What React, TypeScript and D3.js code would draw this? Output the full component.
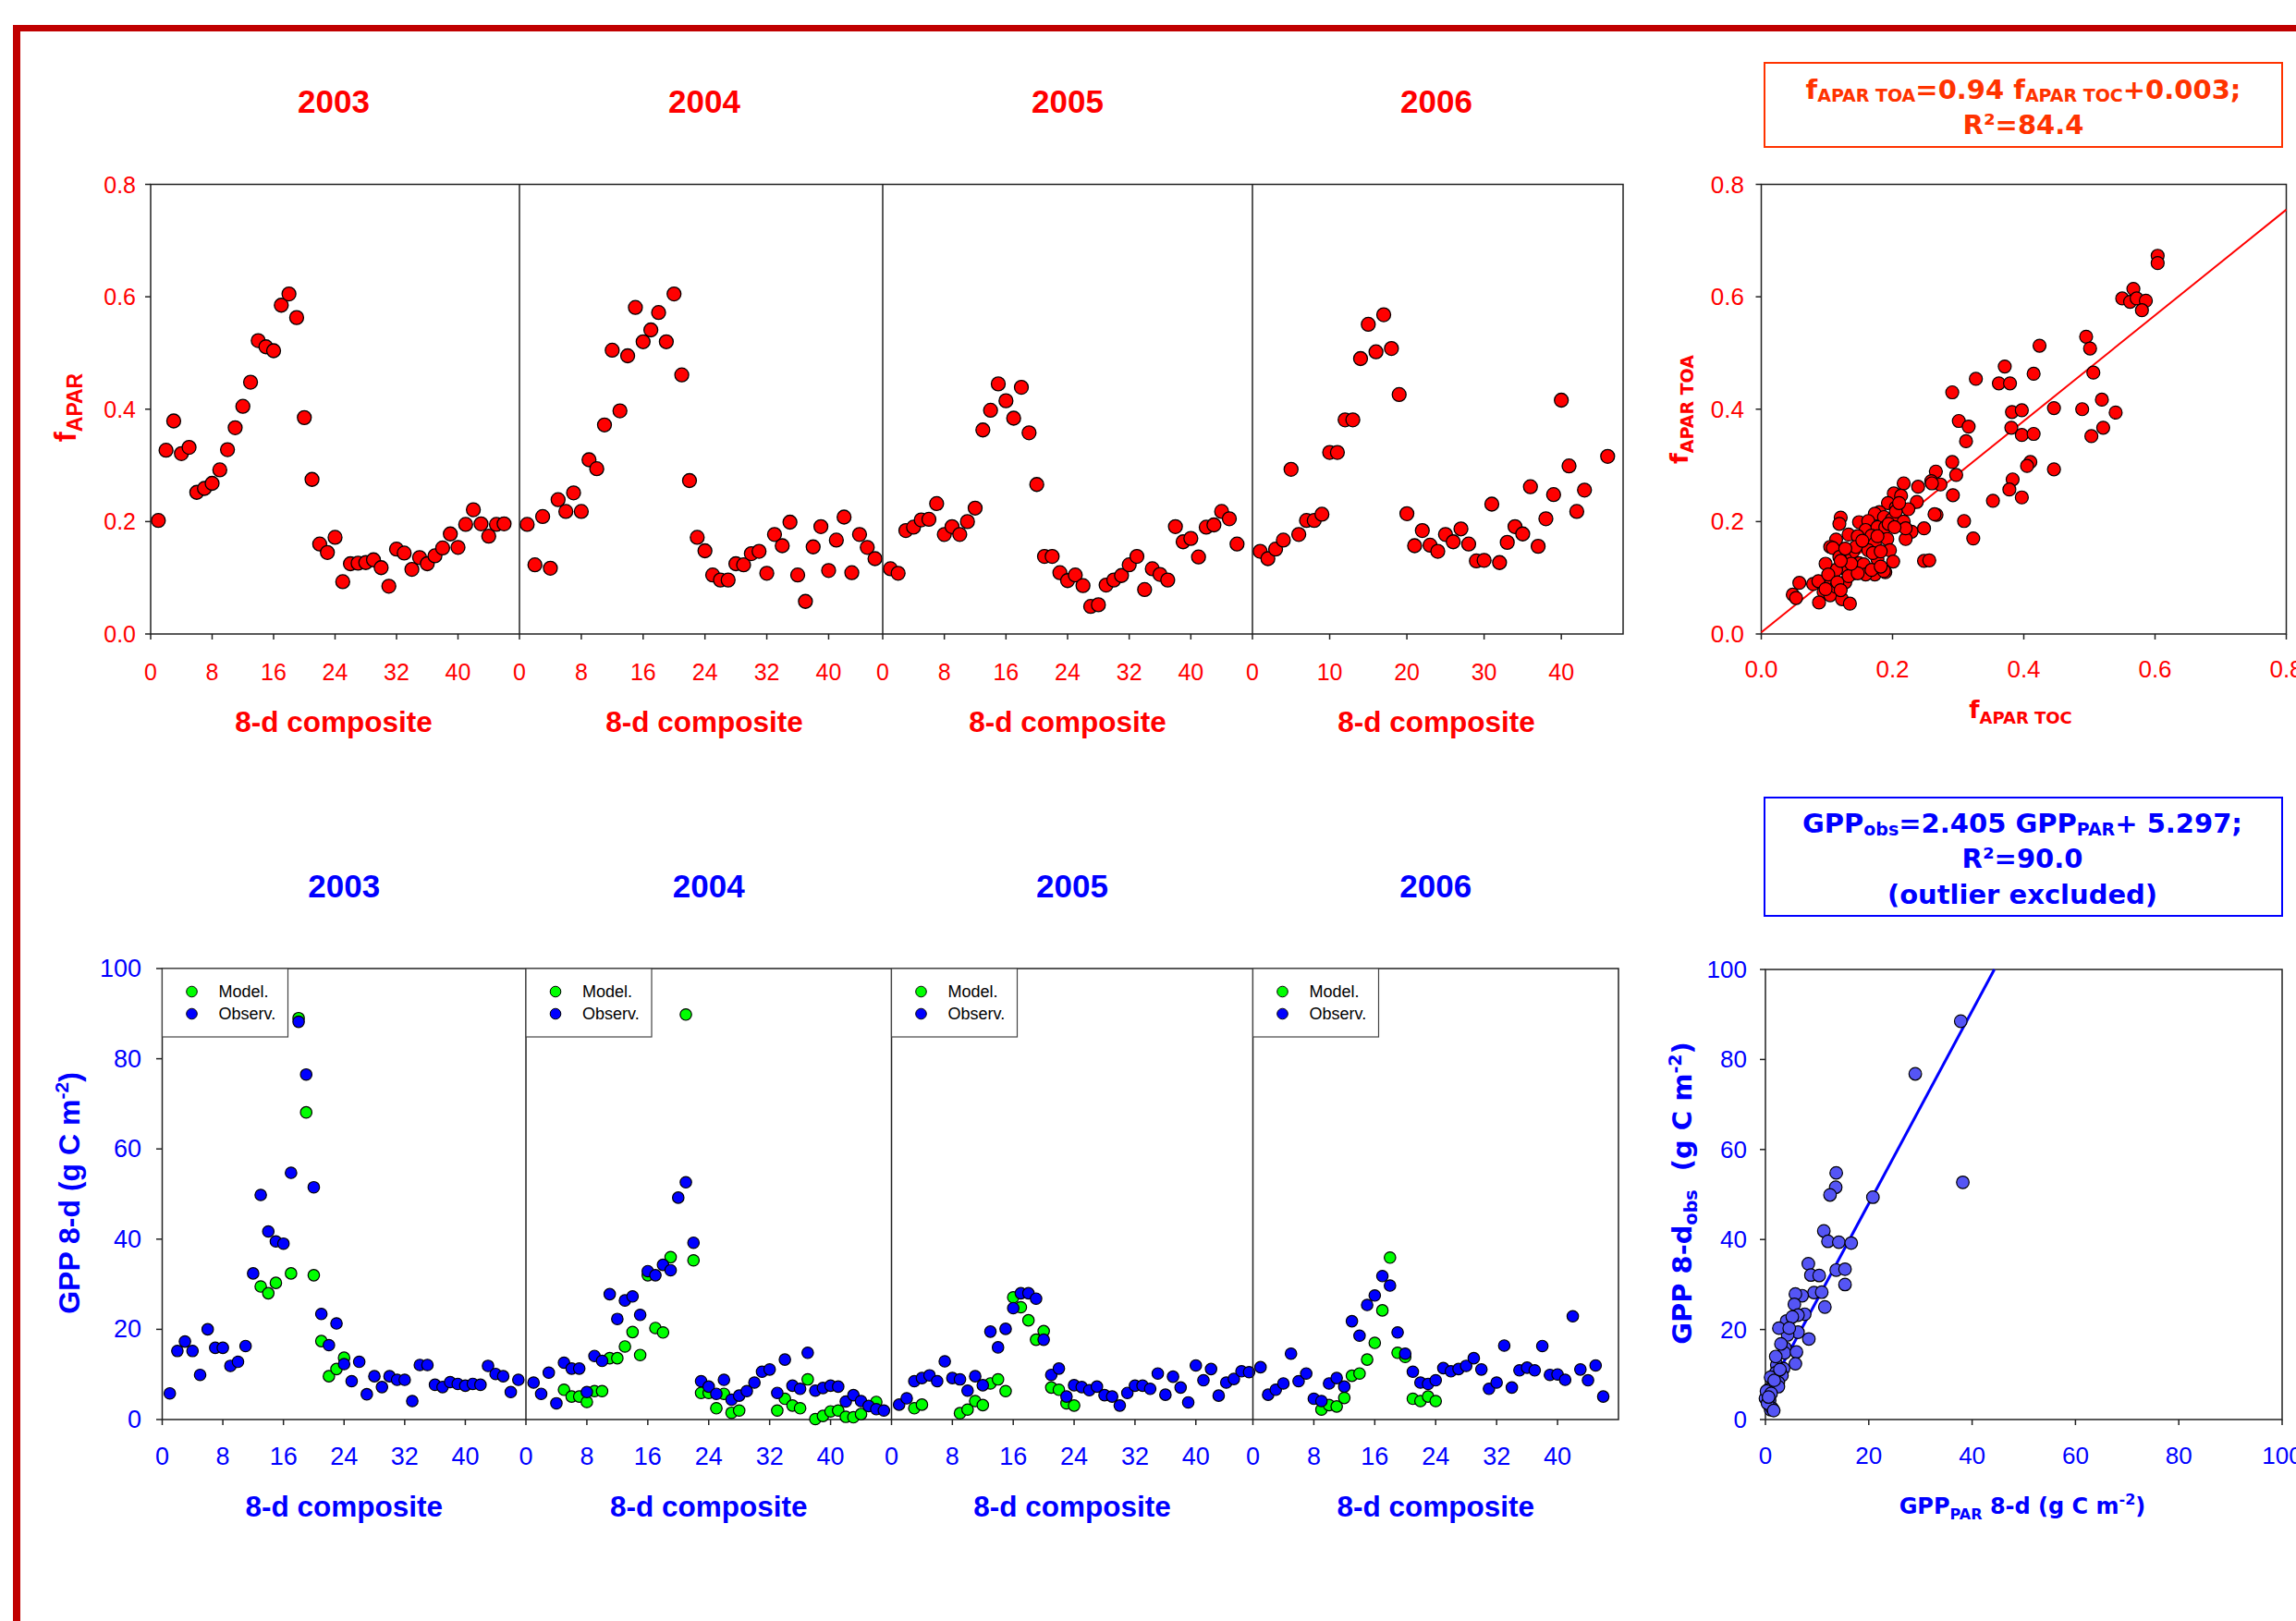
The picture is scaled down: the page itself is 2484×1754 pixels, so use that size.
import React from "react";
import * as d3 from "d3";

const W = 2484;
const H = 1754;
const ARIAL = "'Liberation Sans', Arial, sans-serif";
const VERD = "'DejaVu Sans', Verdana, sans-serif";

// ---------------- DATA ----------------
const years = ["2003", "2004", "2005", "2006"];

// fAPAR time series (composite index -> value)
const faparComp2003 = d3.range(1, 47);
const faparVal2003 = [0.202, 0.327, 0.379, 0.321, 0.332, 0.252, 0.259, 0.268, 0.292, 0.328, 0.367, 0.405, 0.448, 0.522, 0.511, 0.504, 0.585, 0.605, 0.563, 0.385, 0.275, 0.16, 0.145, 0.172, 0.093, 0.125, 0.126, 0.127, 0.132, 0.118, 0.085, 0.151, 0.144, 0.115, 0.136, 0.125, 0.139, 0.153, 0.178, 0.154, 0.195, 0.221, 0.196, 0.174, 0.195, 0.196];
const faparComp2004 = d3.range(1, 47);
const faparVal2004 = [0.195, 0.123, 0.209, 0.117, 0.239, 0.218, 0.251, 0.218, 0.31, 0.294, 0.372, 0.505, 0.397, 0.495, 0.581, 0.52, 0.541, 0.572, 0.52, 0.605, 0.461, 0.273, 0.172, 0.148, 0.105, 0.096, 0.096, 0.125, 0.123, 0.143, 0.147, 0.108, 0.177, 0.157, 0.199, 0.105, 0.058, 0.155, 0.191, 0.113, 0.167, 0.208, 0.109, 0.177, 0.154, 0.134];
const faparComp2005 = d3.range(1, 47);
const faparVal2005 = [0.116, 0.108, 0.184, 0.19, 0.203, 0.204, 0.232, 0.177, 0.191, 0.177, 0.2, 0.224, 0.363, 0.398, 0.445, 0.415, 0.384, 0.439, 0.358, 0.266, 0.138, 0.138, 0.109, 0.095, 0.105, 0.086, 0.049, 0.052, 0.087, 0.096, 0.104, 0.123, 0.138, 0.079, 0.116, 0.106, 0.096, 0.191, 0.164, 0.17, 0.137, 0.19, 0.194, 0.218, 0.205, 0.16];
const faparComp2006 = [...d3.range(1, 44), 46];
const faparVal2006 = [0.147, 0.134, 0.151, 0.167, 0.293, 0.177, 0.202, 0.202, 0.213, 0.323, 0.323, 0.381, 0.381, 0.49, 0.551, 0.502, 0.568, 0.508, 0.426, 0.214, 0.157, 0.184, 0.158, 0.147, 0.177, 0.164, 0.187, 0.16, 0.13, 0.131, 0.231, 0.127, 0.163, 0.191, 0.178, 0.262, 0.156, 0.205, 0.248, 0.416, 0.299, 0.218, 0.256, 0.316];

// GPP time series: observed (blue) and modelled (green, null = not plotted)
const gppObs2003 = [5.8, 15.2, 17.3, 15.2, 9.9, 20.0, 15.9, 15.9, 11.9, 12.8, 16.3, 32.4, 49.8, 41.7, 39.5, 39.0, 54.7, 88.2, 76.5, 51.5, 23.4, 16.5, 21.3, 12.3, 8.5, 12.8, 5.6, 9.6, 7.2, 9.6, 8.8, 8.8, 4.1, 12.1, 12.1, 7.7, 7.2, 8.3, 7.9, 7.5, 7.9, 7.7, 11.9, 10.1, 9.6, 6.1, 8.8];
const gppMod2003 = [null, null, null, null, null, null, null, null, null, null, null, null, 29.5, 28.0, 30.3, null, 32.4, 89.0, 68.1, 32.0, 17.4, 9.6, 11.2, 13.7];
const gppObs2004 = [8.2, 5.7, 10.4, 3.6, 12.6, 11.3, 11.3, 6.1, 14.1, 13.0, 27.8, 22.3, 26.4, 27.3, 23.2, 32.9, 32.0, 34.3, 33.1, 49.2, 52.6, 39.2, 8.5, 7.3, 5.7, 8.8, 4.4, 5.3, 6.3, 8.2, 10.6, 11.1, 5.9, 13.3, 7.5, 6.8, 14.8, 6.4, 7.0, 7.5, 7.3, 4.0, 5.4, 4.1, 3.0, 2.3, 2.0];
const gppMod2004 = [null, null, null, null, 6.6, 5.1, 5.1, 3.9, 6.3, 6.3, 13.6, 13.6, 16.2, 19.4, 14.3, 32.0, 20.3, 19.3, 36.0, null, 89.8, 35.3, 5.9, 5.9, 2.5, 5.7, 1.5, 2.0, null, null, null, null, 2.0, 4.6, 3.1, 2.5, 8.9, 0.1, 0.8, 1.8, 2.0, 0.6, 0.5, 1.2, null, 3.9];
const gppObs2005 = [3.3, 4.7, 8.5, 9.2, 9.8, 8.5, 12.9, 9.2, 8.9, 6.4, 9.6, 7.6, 19.5, 16.0, 20.1, 24.7, 28.0, 28.0, 26.8, 17.7, 9.9, 11.3, 5.1, 7.6, 7.2, 6.5, 7.3, 5.4, 5.1, 3.1, 5.9, 7.5, 7.5, 6.8, 10.2, 5.5, 9.5, 7.1, 3.8, 12.0, 8.7, 11.2, 5.3, 8.2, 9.0, 10.7, 10.5];
const gppMod2005 = [null, null, 2.5, 3.3, null, null, null, null, 1.4, 2.2, 4.1, 3.2, 8.0, 8.9, 6.3, 27.1, 24.9, 22.0, 17.7, 19.6, 7.1, 6.6, 3.6, 3.1];
const gppObs2006 = [11.6, 5.5, 6.6, 8.0, 14.6, 8.5, 10.2, 4.6, 4.1, 8.0, 9.2, 7.3, 21.8, 18.6, 25.4, 27.5, 31.8, 29.7, 19.3, 14.6, 10.6, 8.2, 7.9, 8.7, 11.4, 10.7, 11.2, 11.9, 13.6, 11.1, 6.8, 8.2, 16.4, 7.1, 10.9, 11.5, 10.9, 16.3, 9.9, 10.0, 8.8, 22.9, 11.1, 8.7, 12.0, 5.1];
const gppMod2006 = [null, null, null, null, null, null, null, null, 2.2, 3.2, 2.9, 4.8, 9.7, 10.2, 13.3, 17.0, 24.2, 35.9, 14.8, 13.9, 4.6, 4.1, 5.1, 4.1];

// fAPAR TOC (x) vs fAPAR TOA (y)
const tocValues = [0.604, 0.604, 0.55, 0.562, 0.567, 0.572, 0.586, 0.58, 0.495, 0.501, 0.506, 0.489, 0.503, 0.519, 0.521, 0.54, 0.424, 0.415, 0.446, 0.446, 0.371, 0.362, 0.379, 0.382, 0.397, 0.381, 0.397, 0.415, 0.41, 0.405, 0.383, 0.378, 0.397, 0.353, 0.327, 0.291, 0.301, 0.316, 0.312, 0.291, 0.297, 0.292, 0.309, 0.323, 0.266, 0.259, 0.273, 0.267,
  0.217, 0.239, 0.26, 0.202, 0.213, 0.237, 0.193, 0.205, 0.224, 0.18, 0.173, 0.187, 0.199, 0.217, 0.229, 0.248, 0.22, 0.248, 0.256, 0.264, 0.121, 0.119, 0.149, 0.163, 0.159, 0.177, 0.189, 0.133, 0.114, 0.147, 0.168, 0.192, 0.173, 0.105, 0.109, 0.14, 0.163, 0.128, 0.149, 0.156, 0.177, 0.17, 0.196, 0.201, 0.189, 0.173, 0.159, 0.14, 0.126, 0.114, 0.098, 0.119, 0.058, 0.079, 0.087, 0.048, 0.053, 0.095, 0.105, 0.128, 0.123, 0.135, 0.088, 0.105, 0.114, 0.102, 0.133, 0.147, 0.187, 0.137, 0.182, 0.144, 0.154, 0.177, 0.205, 0.194, 0.21, 0.22, 0.203, 0.128, 0.121, 0.168, 0.182, 0.116, 0.121, 0.098];
const toaValues = [0.673, 0.66, 0.597, 0.591, 0.614, 0.597, 0.593, 0.576, 0.529, 0.508, 0.465, 0.4, 0.352, 0.417, 0.367, 0.394, 0.513, 0.463, 0.402, 0.293, 0.476, 0.446, 0.446, 0.395, 0.398, 0.367, 0.354, 0.356, 0.306, 0.299, 0.275, 0.257, 0.243, 0.237, 0.454, 0.43, 0.379, 0.369, 0.343, 0.306, 0.283, 0.247, 0.201, 0.17, 0.289, 0.272, 0.266, 0.212,
  0.268, 0.262, 0.268, 0.25, 0.246, 0.235, 0.233, 0.225, 0.222, 0.217, 0.214, 0.208, 0.204, 0.2, 0.182, 0.188, 0.169, 0.13, 0.131, 0.213, 0.207, 0.196, 0.199, 0.201, 0.185, 0.19, 0.19, 0.177, 0.168, 0.174, 0.175, 0.169, 0.161, 0.155, 0.153, 0.147, 0.149, 0.133, 0.126, 0.124, 0.133, 0.144, 0.149, 0.129, 0.11, 0.106, 0.106, 0.108, 0.117, 0.114, 0.125, 0.137, 0.091, 0.089, 0.094, 0.07, 0.064, 0.075, 0.069, 0.092, 0.062, 0.054, 0.056, 0.087, 0.084, 0.106, 0.103, 0.108, 0.112, 0.125, 0.147, 0.155, 0.166, 0.174, 0.218, 0.196, 0.233, 0.188, 0.19, 0.152, 0.13, 0.114, 0.12, 0.092, 0.078, 0.08];
const faparFitSlope = 0.94;
const faparFitIntercept = 0.003;

// GPP_PAR (x) vs GPP_obs (y)
const gppParValues = [37.8, 29.0, 38.2, 20.8, 13.7, 13.6, 12.5, 11.3, 12.1, 14.2, 16.6, 13.7, 15.4, 15.4, 8.3, 8.8, 10.4, 9.4, 10.9, 11.5, 7.1, 5.8, 5.6, 7.6, 6.3, 6.3, 8.4, 4.1, 4.3, 2.6, 3.8, 3.7, 6.0, 5.8, 2.2, 2.0, 3.5, 3.2, 2.0, 2.5, 1.0, 1.6, 0.5, 2.5, 0.0, 0.8, 1.0, 1.3, 0.4, 1.7, 2.8, 0.2, 1.1, 0.6, 1.6, 5.2, 3.0, 4.6];
const gppObsValues = [88.5, 76.8, 52.7, 49.4, 54.8, 51.6, 49.9, 41.9, 39.6, 39.4, 39.2, 33.2, 33.4, 30.0, 34.6, 32.1, 32.0, 28.2, 28.3, 25.0, 27.5, 27.9, 25.6, 23.4, 23.2, 19.4, 17.9, 21.9, 18.8, 20.3, 15.9, 14.8, 15.0, 12.4, 12.1, 14.0, 11.3, 9.8, 10.4, 8.2, 9.4, 7.7, 6.6, 7.3, 4.7, 4.2, 2.2, 2.5, 3.6, 8.7, 11.1, 6.3, 5.8, 5.0, 2.0, 22.8, 16.8, 20.3];
const gppFitSlope = 2.14;
const gppFitIntercept = 5.2;

const faparComps = [faparComp2003, faparComp2004, faparComp2005, faparComp2006];
const faparVals = [faparVal2003, faparVal2004, faparVal2005, faparVal2006];
const gppObs = [gppObs2003, gppObs2004, gppObs2005, gppObs2006];
const gppMod = [gppMod2003, gppMod2004, gppMod2005, gppMod2006];

const topTicks = [[0, 8, 16, 24, 32, 40], [0, 8, 16, 24, 32, 40], [0, 8, 16, 24, 32, 40], [0, 10, 20, 30, 40]];
const botTicks = [0, 8, 16, 24, 32, 40];
const faparTicks = [0, 0.2, 0.4, 0.6, 0.8];
const gppTicks = [0, 20, 40, 60, 80, 100];

// ---------------- LAYOUT ----------------
const topEdges = [163, 562, 955, 1355, 1756];
const topMax = [48, 47, 48, 48];
const topTitleX = [361, 762, 1155, 1554];
const botEdges = [175.5, 569, 964.5, 1355.5, 1751];
const botMax = [48, 48, 47.5, 48];

const RED = "#FF0000";
const BLUE = "#0000FF";
const GREEN = "#00FF00";
const AX = "#222";

const yTop = d3.scaleLinear().domain([0, 0.8]).range([686, 199.5]);
const yBot = d3.scaleLinear().domain([0, 100]).range([1536, 1048]);

const sxTop = d3.scaleLinear().domain([0, 0.8]).range([1905.5, 2473.5]);
const syTop = d3.scaleLinear().domain([0, 0.8]).range([686, 199.5]);
const sxBot = d3.scaleLinear().domain([0, 100]).range([1910, 2469]);
const syBot = d3.scaleLinear().domain([0, 100]).range([1536, 1049]);

const fmt1 = d3.format(".1f");

function TopRow() {
  const els: any[] = [];
  years.forEach((yr, i) => {
    const x = d3.scaleLinear().domain([0, topMax[i]]).range([topEdges[i], topEdges[i + 1]]);
    const cx = topTitleX[i];
    els.push(
      <text key={"t" + i} x={cx} y={109} textAnchor="middle" dominantBaseline="central" fontFamily={ARIAL} fontWeight="bold" fontSize={35} fill={RED}>{yr}</text>
    );
    els.push(
      <text key={"c" + i} x={cx} y={781} textAnchor="middle" dominantBaseline="central" fontFamily={ARIAL} fontWeight="bold" fontSize={31.5} fill={RED}>8-d composite</text>
    );
    topTicks[i].forEach((t) => {
      els.push(<line key={`xt${i}-${t}`} x1={x(t)} x2={x(t)} y1={686} y2={692} stroke={AX} strokeWidth={1.5} />);
      els.push(
        <text key={`xl${i}-${t}`} x={x(t)} y={727} textAnchor="middle" dominantBaseline="central" fontFamily={ARIAL} fontSize={25} fill={RED}>{t}</text>
      );
    });
    if (i > 0) {
      els.push(<line key={"d" + i} x1={topEdges[i]} x2={topEdges[i]} y1={199.5} y2={686} stroke={AX} strokeWidth={1.5} />);
    }
    faparComps[i].forEach((c, j) => {
      els.push(<circle key={`p${i}-${j}`} cx={x(c)} cy={yTop(faparVals[i][j])} r={7.5} fill={RED} stroke="#000" strokeWidth={1.3} />);
    });
  });
  faparTicks.forEach((t) => {
    els.push(<line key={"yt" + t} x1={157} x2={163} y1={yTop(t)} y2={yTop(t)} stroke={AX} strokeWidth={1.5} />);
    els.push(
      <text key={"yl" + t} x={147} y={yTop(t)} textAnchor="end" dominantBaseline="central" fontFamily={ARIAL} fontSize={25} fill={RED}>{fmt1(t)}</text>
    );
  });
  return (
    <g>
      <rect x={topEdges[0]} y={199.5} width={topEdges[4] - topEdges[0]} height={686 - 199.5} fill="none" stroke={AX} strokeWidth={1.5} />
      {els}
      <text transform="translate(82,441) rotate(-90)" textAnchor="middle" fontFamily={ARIAL} fontWeight="bold" fontSize={33} fill={RED}>
        <tspan>f</tspan>
        <tspan fontSize={23} dy={7}>APAR</tspan>
      </text>
    </g>
  );
}

function BottomRow() {
  const els: any[] = [];
  years.forEach((yr, i) => {
    const x = d3.scaleLinear().domain([0, botMax[i]]).range([botEdges[i], botEdges[i + 1]]);
    const x0 = botEdges[i];
    const cx = (botEdges[i] + botEdges[i + 1]) / 2;
    els.push(
      <text key={"t" + i} x={cx} y={958} textAnchor="middle" dominantBaseline="central" fontFamily={ARIAL} fontWeight="bold" fontSize={35} fill={BLUE}>{yr}</text>
    );
    els.push(
      <text key={"c" + i} x={cx} y={1630} textAnchor="middle" dominantBaseline="central" fontFamily={ARIAL} fontWeight="bold" fontSize={31.5} fill={BLUE}>8-d composite</text>
    );
    botTicks.forEach((t) => {
      els.push(<line key={`xt${i}-${t}`} x1={x(t)} x2={x(t)} y1={1536} y2={1542} stroke={AX} strokeWidth={1.5} />);
      els.push(
        <text key={`xl${i}-${t}`} x={x(t)} y={1576} textAnchor="middle" dominantBaseline="central" fontFamily={ARIAL} fontSize={27} fill={BLUE}>{t}</text>
      );
    });
    if (i > 0) {
      els.push(<line key={"d" + i} x1={x0} x2={x0} y1={1048} y2={1536} stroke={AX} strokeWidth={1.5} />);
    }
    // legend
    els.push(<rect key={"lg" + i} x={x0} y={1048} width={136} height={74} fill="#fff" stroke="#444" strokeWidth={1.2} />);
    els.push(<circle key={"lgm" + i} cx={x0 + 32} cy={1073} r={5.8} fill={GREEN} stroke="#000" strokeWidth={1} />);
    els.push(<circle key={"lgo" + i} cx={x0 + 32} cy={1097} r={5.8} fill={BLUE} stroke="#000" strokeWidth={1} />);
    els.push(<text key={"lgmt" + i} x={x0 + 61} y={1073} dominantBaseline="central" fontFamily={ARIAL} fontSize={18} fill="#000">Model.</text>);
    els.push(<text key={"lgot" + i} x={x0 + 61} y={1097} dominantBaseline="central" fontFamily={ARIAL} fontSize={18} fill="#000">Observ.</text>);
    gppMod[i].forEach((v, j) => {
      if (v === null) return;
      els.push(<circle key={`m${i}-${j}`} cx={x(j + 1)} cy={yBot(v)} r={6.2} fill={GREEN} stroke="#000" strokeWidth={1.2} />);
    });
    gppObs[i].forEach((v, j) => {
      els.push(<circle key={`o${i}-${j}`} cx={x(j + 1)} cy={yBot(v)} r={6.2} fill={BLUE} stroke="#000" strokeWidth={1.2} />);
    });
  });
  gppTicks.forEach((t) => {
    els.push(<line key={"yt" + t} x1={169} x2={175.5} y1={yBot(t)} y2={yBot(t)} stroke={AX} strokeWidth={1.5} />);
    els.push(
      <text key={"yl" + t} x={153} y={yBot(t)} textAnchor="end" dominantBaseline="central" fontFamily={ARIAL} fontSize={27} fill={BLUE}>{t}</text>
    );
  });
  return (
    <g>
      <rect x={botEdges[0]} y={1048} width={botEdges[4] - botEdges[0]} height={1536 - 1048} fill="none" stroke={AX} strokeWidth={1.5} />
      {els}
      <text transform="translate(86,1291) rotate(-90)" textAnchor="middle" fontFamily={ARIAL} fontWeight="bold" fontSize={32} fill={BLUE}>
        <tspan>GPP 8-d (g C m</tspan>
        <tspan fontSize={21} dy={-12}>-2</tspan>
        <tspan dy={12}>)</tspan>
      </text>
    </g>
  );
}

function TopScatter() {
  const [x0, x1] = sxTop.range();
  const [y0, y1] = syTop.range();
  const line = d3.line<number>().x((v) => sxTop(v)).y((v) => syTop(faparFitSlope * v + faparFitIntercept));
  return (
    <g>
      <rect x={1909} y={68} width={560} height={91} fill="#fff" stroke="#FF3300" strokeWidth={2} />
      <text x={2189} y={97} textAnchor="middle" dominantBaseline="central" fontFamily={VERD} fontWeight="bold" fontSize={29} fill="#FF3300">
        <tspan>f</tspan>
        <tspan fontSize={19} dy={6}>APAR TOA</tspan>
        <tspan dy={-6}>=0.94 f</tspan>
        <tspan fontSize={19} dy={6}>APAR TOC</tspan>
        <tspan dy={-6}>+0.003;</tspan>
      </text>
      <text x={2189} y={135} textAnchor="middle" dominantBaseline="central" fontFamily={VERD} fontWeight="bold" fontSize={29} fill="#FF3300">R²=84.4</text>
      <rect x={x0} y={y1} width={x1 - x0} height={y0 - y1} fill="none" stroke={AX} strokeWidth={1.5} />
      {faparTicks.map((t) => (
        <g key={"sy" + t}>
          <line x1={x0 - 6} x2={x0} y1={syTop(t)} y2={syTop(t)} stroke={AX} strokeWidth={1.5} />
          <text x={1887} y={syTop(t)} textAnchor="end" dominantBaseline="central" fontFamily={ARIAL} fontSize={26} fill={RED}>{fmt1(t)}</text>
        </g>
      ))}
      {faparTicks.map((t) => (
        <g key={"sx" + t}>
          <line x1={sxTop(t)} x2={sxTop(t)} y1={y0} y2={y0 + 6} stroke={AX} strokeWidth={1.5} />
          <text x={sxTop(t)} y={724} textAnchor="middle" dominantBaseline="central" fontFamily={ARIAL} fontSize={26} fill={RED}>{fmt1(t)}</text>
        </g>
      ))}
      <path d={line([0, 0.8]) || ""} stroke={RED} strokeWidth={2} fill="none" />
      {tocValues.map((v, i) => (
        <circle key={"tp" + i} cx={sxTop(v)} cy={syTop(toaValues[i])} r={7} fill={RED} stroke="#000" strokeWidth={1.2} />
      ))}
      <text x={2186} y={777} textAnchor="middle" fontFamily={VERD} fontWeight="bold" fontSize={26} fill={RED}>
        <tspan>f</tspan>
        <tspan fontSize={18} dy={6}>APAR TOC</tspan>
      </text>
      <text transform="translate(1826,443) rotate(-90)" textAnchor="middle" fontFamily={VERD} fontWeight="bold" fontSize={27} fill={RED}>
        <tspan>f</tspan>
        <tspan fontSize={19} dy={6}>APAR TOA</tspan>
      </text>
    </g>
  );
}

function BottomScatter() {
  const [x0, x1] = sxBot.range();
  const [y0, y1] = syBot.range();
  const xEnd = (100 - gppFitIntercept) / gppFitSlope;
  const line = d3.line<number>().x((v) => sxBot(v)).y((v) => syBot(gppFitSlope * v + gppFitIntercept));
  return (
    <g>
      <rect x={1909} y={863} width={560} height={128} fill="#fff" stroke={BLUE} strokeWidth={2} />
      <text x={2188} y={891} textAnchor="middle" dominantBaseline="central" fontFamily={VERD} fontWeight="bold" fontSize={29} fill={BLUE}>
        <tspan>GPP</tspan>
        <tspan fontSize={19} dy={6}>obs</tspan>
        <tspan dy={-6}>=2.405 GPP</tspan>
        <tspan fontSize={19} dy={6}>PAR</tspan>
        <tspan dy={-6}>+ 5.297;</tspan>
      </text>
      <text x={2188} y={929} textAnchor="middle" dominantBaseline="central" fontFamily={VERD} fontWeight="bold" fontSize={29} fill={BLUE}>R²=90.0</text>
      <text x={2188} y={968} textAnchor="middle" dominantBaseline="central" fontFamily={VERD} fontWeight="bold" fontSize={29} fill={BLUE}>(outlier excluded)</text>
      <rect x={x0} y={y1} width={x1 - x0} height={y0 - y1} fill="none" stroke={AX} strokeWidth={1.5} />
      {gppTicks.map((t) => (
        <g key={"by" + t}>
          <line x1={x0 - 6} x2={x0} y1={syBot(t)} y2={syBot(t)} stroke={AX} strokeWidth={1.5} />
          <text x={1890} y={syBot(t)} textAnchor="end" dominantBaseline="central" fontFamily={ARIAL} fontSize={26} fill={BLUE}>{t}</text>
        </g>
      ))}
      {gppTicks.map((t) => (
        <g key={"bx" + t}>
          <line x1={sxBot(t)} x2={sxBot(t)} y1={y0} y2={y0 + 6} stroke={AX} strokeWidth={1.5} />
          <text x={sxBot(t)} y={1575} textAnchor="middle" dominantBaseline="central" fontFamily={ARIAL} fontSize={26} fill={BLUE}>{t}</text>
        </g>
      ))}
      <path d={line([0, xEnd]) || ""} stroke={BLUE} strokeWidth={3} fill="none" />
      {gppParValues.map((v, i) => (
        <circle key={"bp" + i} cx={sxBot(v)} cy={syBot(gppObsValues[i])} r={6.8} fill="#5555F5" stroke="#000" strokeWidth={1.2} />
      ))}
      <text x={2188} y={1638} textAnchor="middle" fontFamily={VERD} fontWeight="bold" fontSize={24} fill={BLUE}>
        <tspan>GPP</tspan>
        <tspan fontSize={16} dy={6}>PAR</tspan>
        <tspan dy={-6}> 8-d (g C m</tspan>
        <tspan fontSize={16} dy={-10}>-2</tspan>
        <tspan dy={10}>)</tspan>
      </text>
      <text transform="translate(1830,1291) rotate(-90)" textAnchor="middle" fontFamily={VERD} fontWeight="bold" fontSize={29} fill={BLUE}>
        <tspan>GPP 8-d</tspan>
        <tspan fontSize={19} dy={6}>obs</tspan>
        <tspan dy={-6} xmlSpace="preserve">{"  (g C m"}</tspan>
        <tspan fontSize={19} dy={-11}>-2</tspan>
        <tspan dy={11}>)</tspan>
      </text>
    </g>
  );
}

export default function App() {
  return (
    <svg width={W} height={H} viewBox={`0 0 ${W} ${H}`} style={{ display: "block", position: "absolute", left: 0, top: 0, background: "#fff" }}>
      <rect x={0} y={0} width={W} height={H} fill="#fff" />
      <rect x={14} y={27} width={W - 14} height={7} fill="#C00000" />
      <rect x={14} y={27} width={8} height={H - 27} fill="#C00000" />
      <TopRow />
      <BottomRow />
      <TopScatter />
      <BottomScatter />
    </svg>
  );
}
